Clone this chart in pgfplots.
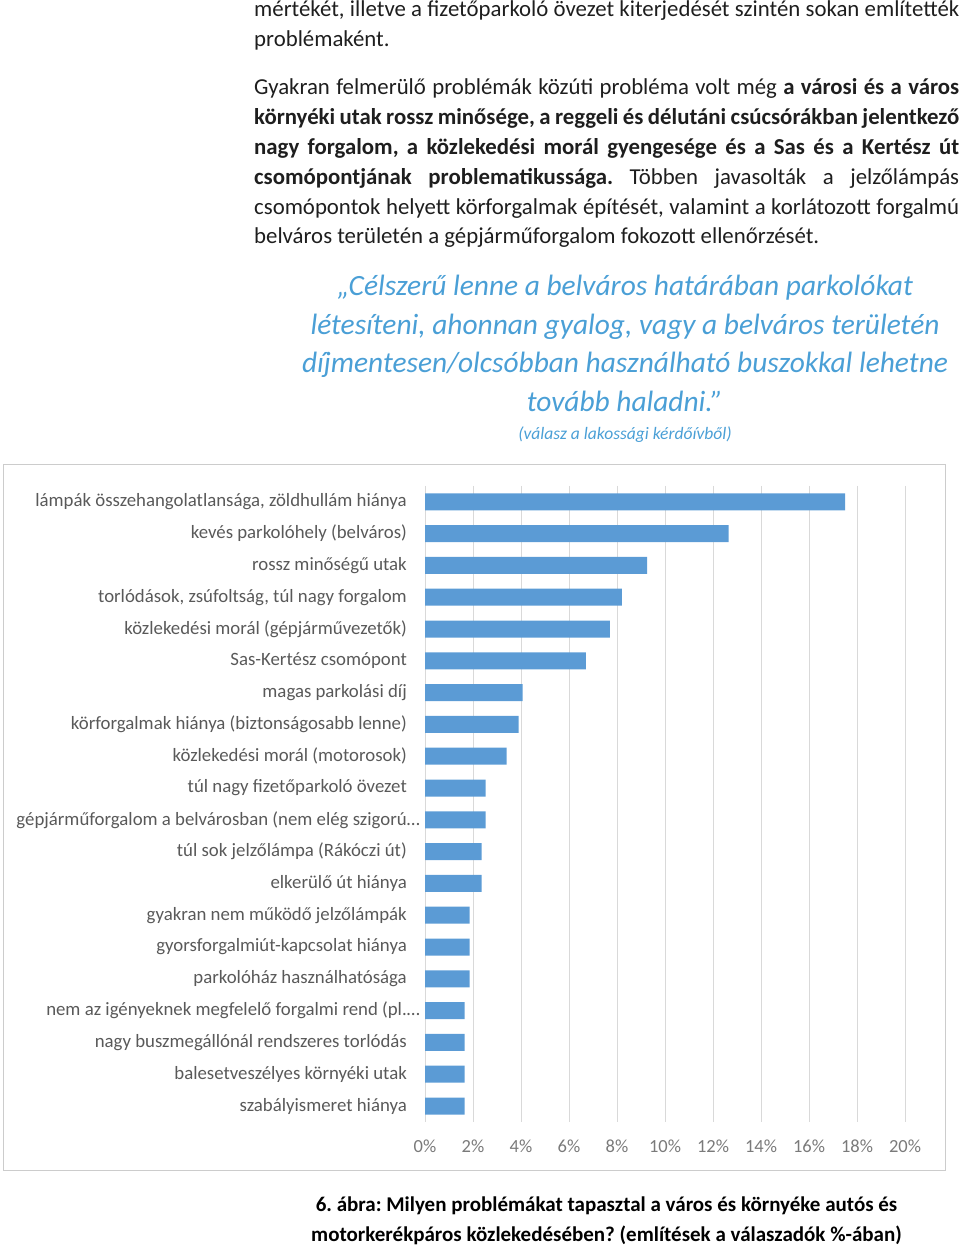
\documentclass[border=0pt]{standalone}
\usepackage{pgfplots}
\pgfplotsset{compat=1.18}
\usepackage{fontspec}
\setmainfont{Carlito}
\frenchspacing
\definecolor{barblue}{HTML}{5B9BD5}
\definecolor{quoteblue}{HTML}{4A9FD6}
\definecolor{tickgrey}{HTML}{595959}
\definecolor{bodytext}{HTML}{1E1E1E}
\newcommand{\body}{\fontsize{22.8}{30}\selectfont\color{bodytext}}
\newcommand{\jl}[1]{\makebox[705pt][s]{#1}}
\begin{document}
\begin{tikzpicture}[x=1pt,y=1pt]
\useasboundingbox (0,0) rectangle (960,1247);
% body text paragraph 1
\node[anchor=base west,inner sep=0pt,font=\body] at (254,1247-17) {\jl{mértékét, illetve a fizetőparkoló övezet kiterjedését szintén sokan említették}};
\node[anchor=base west,inner sep=0pt,font=\body] at (254,1247-47) {problémaként.};
% paragraph 2
\node[anchor=base west,inner sep=0pt,font=\body] at (254,1247-95) {\jl{Gyakran felmerülő problémák közúti probléma volt még \textbf{a városi és a város}}};
\node[anchor=base west,inner sep=0pt,font=\body] at (254,1247-124.8) {\jl{\textbf{környéki utak rossz minősége, a reggeli és délutáni csúcsórákban jelentkező}}};
\node[anchor=base west,inner sep=0pt,font=\body] at (254,1247-154.6) {\jl{\textbf{nagy forgalom, a közlekedési morál gyengesége és a Sas és a Kertész út}}};
\node[anchor=base west,inner sep=0pt,font=\body] at (254,1247-184.4) {\jl{\textbf{csomópontjának problematikussága.} Többen javasolták a jelzőlámpás}};
\node[anchor=base west,inner sep=0pt,font=\body] at (254,1247-214.2) {\jl{csomópontok helyett körforgalmak építését, valamint a korlátozott forgalmú}};
\node[anchor=base west,inner sep=0pt,font=\body] at (254,1247-244) {belváros területén a gépjárműforgalom fokozott ellenőrzését.};
% quote
\begin{scope}[every node/.style={anchor=base,inner sep=0pt,text=quoteblue,font=\fontsize{29.4}{38}\selectfont\itshape}]
\node at (625,1247-296) {„Célszerű lenne a belváros határában parkolókat};
\node at (625,1247-334.5) {létesíteni, ahonnan gyalog, vagy a belváros területén};
\node at (625,1247-373) {díjmentesen/olcsóbban használható buszokkal lehetne};
\node at (625,1247-411.5) {tovább haladni.”};
\end{scope}
\node[anchor=base,inner sep=0pt,text=quoteblue,font=\fontsize{17.5}{20}\selectfont\itshape] at (625,1247-440) {(válasz a lakossági kérdőívből)};
% chart frame
\draw[black!20,line width=1pt] (3.5,1247-465) rectangle (945,1247-1171);
% chart
\begin{axis}[
  at={(425pt,125.1pt)}, anchor=south west,
  scale only axis, width=480pt, height=636pt,
  xbar, bar width=17pt, bar shift=0pt,
  xmin=0, xmax=20, ymin=-0.5, ymax=19.5,
  y dir=reverse,
  xtick={0,2,...,20},
  ytick={0,...,19},
  axis line style={draw=none},
  major tick length=0pt,
  xmajorgrids, major grid style={draw=black!15,line width=1pt},
  /pgf/number format/assume math mode=true,
  xticklabel={\pgfmathprintnumber{\tick}\%},
  xticklabel style={font=\fontsize{18.5}{20}\selectfont, text=tickgrey!80, inner sep=0pt, anchor=center, yshift=-24pt},
  yticklabel style={font=\fontsize{18.8}{20}\selectfont, text=tickgrey, inner sep=0pt, anchor=east, xshift=-18pt},
  yticklabels={
    {lámpák összehangolatlansága, zöldhullám hiánya},
    {kevés parkolóhely (belváros)},
    {rossz minőségű utak},
    {torlódások, zsúfoltság, túl nagy forgalom},
    {közlekedési morál (gépjárművezetők)},
    {Sas-Kertész csomópont},
    {magas parkolási díj},
    {körforgalmak hiánya (biztonságosabb lenne)},
    {közlekedési morál (motorosok)},
    {túl nagy fizetőparkoló övezet},
    {gépjárműforgalom a belvárosban (nem elég szigorú\rlap{…}},
    {túl sok jelzőlámpa (Rákóczi út)},
    {elkerülő út hiánya},
    {gyakran nem működő jelzőlámpák},
    {gyorsforgalmiút-kapcsolat hiánya},
    {parkolóház használhatósága},
    {nem az igényeknek megfelelő forgalmi rend (pl.\rlap{…}},
    {nagy buszmegállónál rendszeres torlódás},
    {balesetveszélyes környéki utak},
    {szabályismeret hiánya}
  },
]
\addplot[fill=barblue, draw=none] coordinates {
  (17.5,0) (12.65,1) (9.25,2) (8.2,3) (7.7,4) (6.7,5) (4.07,6) (3.9,7) (3.4,8) (2.53,9)
  (2.53,10) (2.36,11) (2.36,12) (1.86,13) (1.86,14) (1.86,15) (1.65,16) (1.65,17) (1.65,18) (1.65,19)
};
\end{axis}
% caption
\node[anchor=base,inner sep=0pt,font=\fontsize{21}{24}\selectfont\bfseries] at (606.5,1247-1211.5) {6. ábra: Milyen problémákat tapasztal a város és környéke autós és};
\node[anchor=base,inner sep=0pt,font=\fontsize{21}{24}\selectfont\bfseries] at (606.5,1247-1241.5) {motorkerékpáros közlekedésében? (említések a válaszadók \%-ában)};
\end{tikzpicture}
\end{document}
